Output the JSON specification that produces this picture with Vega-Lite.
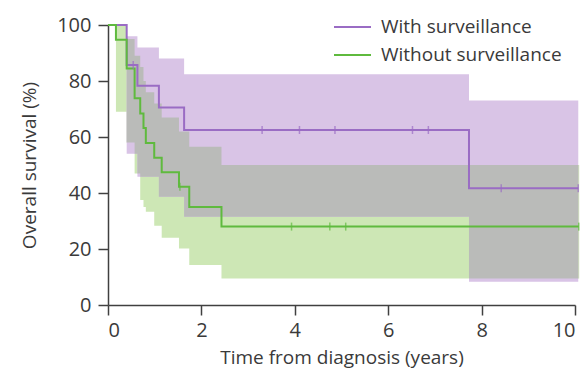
{
  "$schema": "https://vega.github.io/schema/vega-lite/v6.json",
  "width": 467,
  "height": 280,
  "autosize": {"type": "none"},
  "padding": {"left": 108, "top": 25, "right": 12, "bottom": 74},
  "background": "white",
  "config": {
    "view": {"stroke": null},
    "font": "Open Sans",
    "axis": {
      "grid": false,
      "domainColor": "#404040",
      "domainWidth": 1.5,
      "tickColor": "#404040",
      "tickWidth": 1.5,
      "tickSize": 10,
      "labelFont": "Open Sans",
      "labelFontSize": 20,
      "labelColor": "#3a3a3a",
      "titleFont": "Open Sans",
      "titleFontSize": 19,
      "titleFontWeight": "normal",
      "titleColor": "#3a3a3a"
    },
    "legend": {
      "labelFont": "Open Sans",
      "labelFontSize": 19,
      "labelColor": "#3a3a3a",
      "labelLimit": 0
    }
  },
  "datasets": {
    "km": [
      {"group": "With surveillance", "t": 0, "s": 100},
      {"group": "With surveillance", "t": 0.40, "s": 85.7},
      {"group": "With surveillance", "t": 0.63, "s": 78.3},
      {"group": "With surveillance", "t": 1.09, "s": 70.5},
      {"group": "With surveillance", "t": 1.63, "s": 62.5},
      {"group": "With surveillance", "t": 7.73, "s": 41.7},
      {"group": "With surveillance", "t": 10.07, "s": 41.7},
      {"group": "Without surveillance", "t": 0, "s": 100},
      {"group": "Without surveillance", "t": 0.17, "s": 94.7},
      {"group": "Without surveillance", "t": 0.40, "s": 84.5},
      {"group": "Without surveillance", "t": 0.57, "s": 73.8},
      {"group": "Without surveillance", "t": 0.69, "s": 68.4},
      {"group": "Without surveillance", "t": 0.76, "s": 63.2},
      {"group": "Without surveillance", "t": 0.81, "s": 57.9},
      {"group": "Without surveillance", "t": 0.99, "s": 52.6},
      {"group": "Without surveillance", "t": 1.15, "s": 47.4},
      {"group": "Without surveillance", "t": 1.52, "s": 42.2},
      {"group": "Without surveillance", "t": 1.74, "s": 35},
      {"group": "Without surveillance", "t": 2.43, "s": 28},
      {"group": "Without surveillance", "t": 10.08, "s": 28}
    ],
    "censor": [
      {"group": "With surveillance", "t": 0.54, "s": 85.7},
      {"group": "With surveillance", "t": 3.30, "s": 62.5},
      {"group": "With surveillance", "t": 4.10, "s": 62.5},
      {"group": "With surveillance", "t": 4.86, "s": 62.5},
      {"group": "With surveillance", "t": 6.52, "s": 62.5},
      {"group": "With surveillance", "t": 6.86, "s": 62.5},
      {"group": "With surveillance", "t": 8.42, "s": 41.7},
      {"group": "With surveillance", "t": 10.07, "s": 41.7},
      {"group": "Without surveillance", "t": 1.54, "s": 42.2},
      {"group": "Without surveillance", "t": 3.93, "s": 28},
      {"group": "Without surveillance", "t": 4.75, "s": 28},
      {"group": "Without surveillance", "t": 5.09, "s": 28},
      {"group": "Without surveillance", "t": 10.08, "s": 28}
    ],
    "band_with": [
      {"t": 0, "lo": 100, "hi": 100},
      {"t": 0.40, "lo": 54, "hi": 96},
      {"t": 0.63, "lo": 45.8, "hi": 92},
      {"t": 1.09, "lo": 38.7, "hi": 88},
      {"t": 1.63, "lo": 31.5, "hi": 82.4},
      {"t": 7.73, "lo": 8.3, "hi": 73},
      {"t": 10.07, "lo": 8.3, "hi": 73}
    ],
    "band_without": [
      {"t": 0, "lo": 100, "hi": 100},
      {"t": 0.17, "lo": 69, "hi": 100},
      {"t": 0.40, "lo": 58, "hi": 95},
      {"t": 0.57, "lo": 47, "hi": 89},
      {"t": 0.69, "lo": 37.5, "hi": 85},
      {"t": 0.76, "lo": 35, "hi": 80},
      {"t": 0.81, "lo": 33.3, "hi": 76},
      {"t": 0.99, "lo": 28.3, "hi": 72},
      {"t": 1.15, "lo": 24, "hi": 67},
      {"t": 1.52, "lo": 20.2, "hi": 62},
      {"t": 1.74, "lo": 14.3, "hi": 56.5},
      {"t": 2.43, "lo": 9.5, "hi": 50},
      {"t": 10.09, "lo": 9.5, "hi": 50}
    ],
    "band_overlap": [
      {"t": 0.40, "lo": 58, "hi": 95},
      {"t": 0.57, "lo": 54, "hi": 89},
      {"t": 0.63, "lo": 47, "hi": 89},
      {"t": 0.69, "lo": 45.8, "hi": 85},
      {"t": 0.76, "lo": 45.8, "hi": 80},
      {"t": 0.81, "lo": 45.8, "hi": 76},
      {"t": 0.99, "lo": 45.8, "hi": 72},
      {"t": 1.09, "lo": 38.7, "hi": 72},
      {"t": 1.15, "lo": 38.7, "hi": 67},
      {"t": 1.52, "lo": 38.7, "hi": 62},
      {"t": 1.63, "lo": 31.5, "hi": 62},
      {"t": 1.74, "lo": 31.5, "hi": 56.5},
      {"t": 2.43, "lo": 31.5, "hi": 50},
      {"t": 7.73, "lo": 9.5, "hi": 50},
      {"t": 10.07, "lo": 9.5, "hi": 50}
    ]
  },
  "encoding": {
    "x": {
      "field": "t", "type": "quantitative",
      "scale": {"domain": [0, 10], "nice": false},
      "axis": {"values": [0, 2, 4, 6, 8, 10], "title": "Time from diagnosis (years)", "labelPadding": 5, "titlePadding": 8}
    }
  },
  "layer": [
    {
      "data": {"name": "band_without"},
      "mark": {"type": "area", "interpolate": "step-after", "color": "#cde7b5", "opacity": 1},
      "encoding": {
        "y": {"field": "lo", "type": "quantitative", "scale": {"domain": [0, 100], "nice": false},
          "axis": {"values": [0, 20, 40, 60, 80, 100], "title": "Overall survival (%)", "labelPadding": 7, "titlePadding": 17}},
        "y2": {"field": "hi"}
      }
    },
    {
      "data": {"name": "band_with"},
      "mark": {"type": "area", "interpolate": "step-after", "color": "#d9c4e6", "opacity": 1},
      "encoding": {
        "y": {"field": "lo", "type": "quantitative"},
        "y2": {"field": "hi"}
      }
    },
    {
      "data": {"name": "band_overlap"},
      "mark": {"type": "area", "interpolate": "step-after", "color": "#babbb9", "opacity": 1},
      "encoding": {
        "y": {"field": "lo", "type": "quantitative"},
        "y2": {"field": "hi"}
      }
    },
    {
      "data": {"name": "km"},
      "mark": {"type": "line", "interpolate": "step-after", "strokeWidth": 2},
      "encoding": {
        "y": {"field": "s", "type": "quantitative"},
        "color": {
          "field": "group", "type": "nominal",
          "scale": {"domain": ["With surveillance", "Without surveillance"], "range": ["#9a6cc4", "#5fba3e"]},
          "legend": {
            "title": null, "orient": "none", "legendX": 225, "legendY": -10,
            "symbolType": "stroke", "symbolSize": 1369, "symbolStrokeWidth": 2,
            "labelOffset": 9, "clipHeight": 24, "rowPadding": 4, "labelLimit": 0
          }
        }
      }
    },
    {
      "data": {"name": "censor"},
      "mark": {"type": "tick", "orient": "vertical", "size": 8, "thickness": 1.5},
      "encoding": {
        "y": {"field": "s", "type": "quantitative"},
        "color": {"field": "group", "type": "nominal", "legend": null}
      }
    }
  ]
}
